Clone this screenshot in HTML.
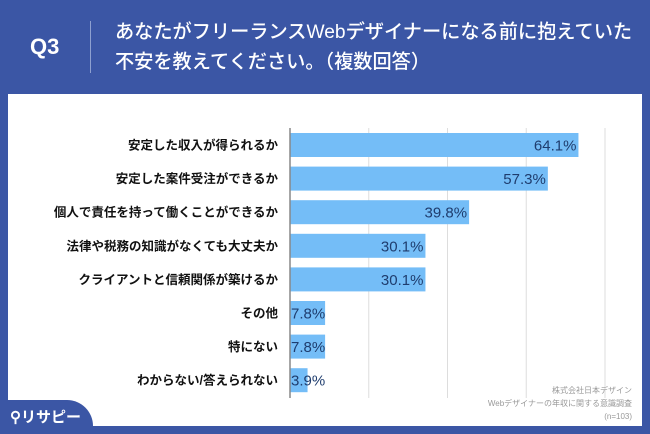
<!DOCTYPE html>
<html><head><meta charset="utf-8"><style>
body{margin:0;width:650px;height:434px;overflow:hidden;background:#3b56a5;font-family:"Liberation Sans","Noto Sans CJK JP",sans-serif;}
#wrap{position:relative;width:650px;height:434px;}
.abs{position:absolute;}
</style></head><body>
<div id="wrap">
<div class="abs" style="left:30px;top:34px;font-size:22px;font-weight:bold;color:#fff;">Q3</div>
<div class="abs" style="left:90px;top:21px;width:1px;height:52px;background:#8ea0d0;"></div>
<div class="abs" style="left:115px;top:18px;font-size:19.2px;line-height:30px;color:#fff;font-weight:500;white-space:nowrap;">あなたがフリーランスWebデザイナーになる前に抱えていた<br>不安を教えてください。（複数回答）</div>
<div class="abs" style="left:8px;top:94px;width:634px;height:332px;background:#fff;"></div>
<svg class="abs" style="left:0;top:0" width="650" height="434" id="chart"></svg>
<div class="abs" style="left:0;top:400px;width:93px;height:34px;background:#3b56a5;border-top-right-radius:26px;"></div>
<div class="abs" style="left:10px;top:406px;font-size:15px;color:#fff;font-weight:bold;">⚲リサピー</div>
<div class="abs" style="right:18px;top:384px;font-size:8px;line-height:13px;color:#999;text-align:right;">株式会社日本デザイン<br>Webデザイナーの年収に関する意識調査<br>(n=103)</div>
</div>
<script>
const categories=["安定した収入が得られるか","安定した案件受注ができるか","個人で責任を持って働くことができるか","法律や税務の知識がなくても大丈夫か","クライアントと信頼関係が築けるか","その他","特にない","わからない/答えられない"];
const values=[64.1,57.3,39.8,30.1,30.1,7.8,7.8,3.9];
const ticks=[0,17.5,35,52.5,70];
const svg=document.getElementById('chart');const NS='http://www.w3.org/2000/svg';
const x0=290,x1=605,xmax=70,top0=133,pitch=33.6,bh=24;
const xs=v=>x0+(x1-x0)*v/xmax;
function mk(t,a){const e=document.createElementNS(NS,t);for(const k in a)e.setAttribute(k,a[k]);svg.appendChild(e);return e;}
ticks.forEach((t,i)=>{if(i===0)return;const l=mk('line',{x1:xs(t),x2:xs(t),y1:128,y2:398,stroke:'#ddd','stroke-width':1});

});
values.forEach((v,i)=>{const y=top0+i*pitch;
const r=mk('rect',{x:x0,y:y,width:xs(v)-x0,height:bh,fill:'#74bdf7'});


const big=v>20;
const t=mk('text',{x:big?xs(v)-2:x0+1,y:y+bh/2+5.5,'text-anchor':big?'end':'start','font-size':15,fill:'#1f3d6e'});t.textContent=v.toFixed(1)+'%';


const c=mk('text',{x:278,y:y+bh/2+4.5,'text-anchor':'end','font-size':12.5,'font-weight':'bold',fill:'#111'});c.textContent=categories[i];

});
const ax=mk('line',{x1:x0,x2:x0,y1:128,y2:398,stroke:'#888','stroke-width':1.5});


</script>
</body></html>
